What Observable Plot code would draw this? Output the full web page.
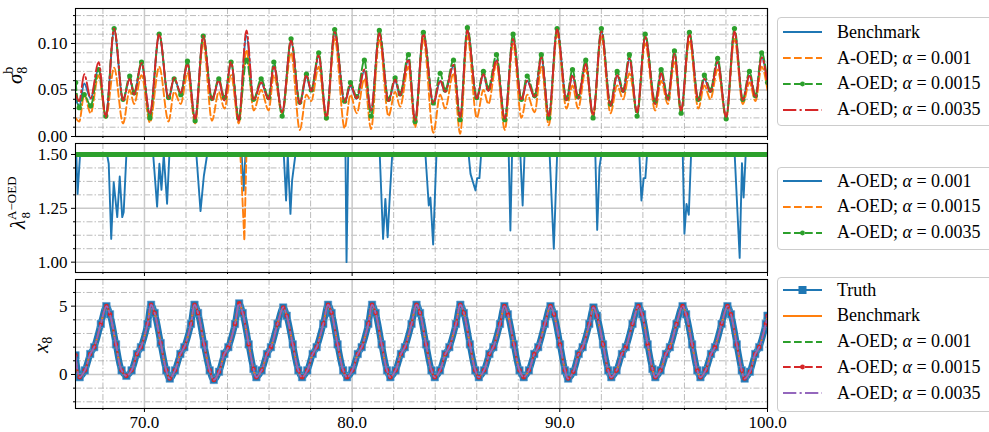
<!DOCTYPE html>
<html><head><meta charset="utf-8">
<script src="https://cdn.jsdelivr.net/npm/d3@7"></script>
<script src="https://cdn.jsdelivr.net/npm/@observablehq/plot@0.6"></script>
<style>
html,body{margin:0;padding:0;background:#fff;}
#root{position:relative;width:989px;height:432px;overflow:hidden;background:#fff;font-family:"Liberation Serif","Times New Roman",serif;}
#root svg.panel{position:absolute;left:0;}
.legend{position:absolute;left:777px;width:230px;border:1px solid #cccccc;border-radius:4px;background:#fff;box-sizing:border-box;}
.legend .row{position:absolute;left:5px;height:22px;display:flex;align-items:center;white-space:nowrap;font-size:18px;color:#000;}
.legend .row svg{width:40px;height:14px;margin-right:14px;flex:none;}
</style></head><body><div id="root"></div>
<script>
// ---------------- data ----------------
const xMajor = [70, 80, 90, 100];
const xMinor = [68, 72, 74, 76, 78, 82, 84, 86, 88, 92, 94, 96, 98];
const sigmaMajor = [0, 0.05, 0.10];
const sigmaMinor = [0.01, 0.02, 0.03, 0.04, 0.06, 0.07, 0.08, 0.09, 0.11, 0.12, 0.13];
const lambdaMajor = [1.0, 1.25, 1.5];
const lambdaMinor = [1.0625, 1.125, 1.1875, 1.3125, 1.375, 1.4375];
const x8Major = [0, 5];
const x8Minor = [-2, -1, 1, 2, 3, 4, 6];

// panel 1: sigma_8^b
const sigmaT = [66.69, 66.86, 67.10, 67.41, 67.79, 68.14, 68.54, 68.97, 69.29, 69.50, 69.86, 70.26, 70.71, 71.16, 71.43, 71.75, 72.07, 72.44, 72.83, 73.25, 73.58, 73.85, 74.17, 74.54, 74.91, 75.26, 75.62, 75.98, 76.23, 76.63, 77.06, 77.48, 77.80, 78.03, 78.39, 78.76, 79.16, 79.64, 79.92, 80.22, 80.59, 80.91, 81.31, 81.75, 82.07, 82.31, 82.71, 83.03, 83.43, 83.91, 84.24, 84.48, 84.88, 85.20, 85.55, 86.00, 86.32, 86.56, 86.95, 87.35, 87.75, 88.15, 88.43, 88.79, 89.11, 89.47, 89.87, 90.32, 90.61, 90.88, 91.25, 91.60, 92.00, 92.44, 92.76, 93.05, 93.35, 93.72, 94.11, 94.59, 94.88, 95.20, 95.52, 95.84, 96.24, 96.67, 96.96, 97.25, 97.60, 98.01, 98.41, 98.81, 99.13, 99.42, 99.72, 100.0];
const sigmaBenchmark = [0.040, 0.033, 0.057, 0.041, 0.073, 0.0215, 0.114, 0.039, 0.062, 0.046, 0.078, 0.024, 0.109, 0.040, 0.062, 0.047, 0.078, 0.019, 0.107, 0.039, 0.060, 0.039, 0.079, 0.018, 0.108, 0.039, 0.058, 0.040, 0.076, 0.026, 0.102, 0.035, 0.064, 0.049, 0.086, 0.021, 0.111, 0.037, 0.054, 0.0405, 0.071, 0.028, 0.111, 0.038, 0.060, 0.044, 0.0825, 0.017, 0.1097, 0.035, 0.060, 0.048, 0.076, 0.021, 0.114, 0.0405, 0.067, 0.049, 0.082, 0.019, 0.105, 0.039, 0.060, 0.042, 0.085, 0.0215, 0.1147, 0.039, 0.0656, 0.0405, 0.078, 0.0226, 0.113, 0.033, 0.0656, 0.0477, 0.0835, 0.026, 0.1068, 0.035, 0.0674, 0.0395, 0.089, 0.028, 0.1097, 0.0387, 0.062, 0.0477, 0.080, 0.021, 0.112, 0.0387, 0.0656, 0.042, 0.085, 0.0567];
const sigmaA001 = [0.020, 0.016, 0.045, 0.025, 0.066, 0.020, 0.074, 0.014, 0.050, 0.035, 0.066, 0.015, 0.075, 0.016, 0.048, 0.035, 0.068, 0.014, 0.101, 0.017, 0.048, 0.030, 0.066, 0.014, 0.093, 0.028, 0.050, 0.028, 0.066, 0.025, 0.090, 0.007, 0.045, 0.038, 0.075, 0.018, 0.105, 0.009, 0.045, 0.025, 0.062, 0.008, 0.105, 0.022, 0.048, 0.032, 0.075, 0.010, 0.105, 0.004, 0.045, 0.030, 0.068, 0.003, 0.108, 0.020, 0.050, 0.035, 0.078, 0.007, 0.100, 0.020, 0.045, 0.026, 0.075, 0.012, 0.110, 0.030, 0.055, 0.030, 0.072, 0.022, 0.108, 0.025, 0.055, 0.040, 0.068, 0.026, 0.100, 0.028, 0.060, 0.035, 0.080, 0.025, 0.103, 0.030, 0.055, 0.040, 0.072, 0.020, 0.105, 0.035, 0.058, 0.038, 0.075, 0.050];
const sigmaA0015 = [0.058, 0.031, 0.045, 0.033, 0.072, 0.022, 0.116, 0.040, 0.065, 0.047, 0.080, 0.020, 0.110, 0.042, 0.062, 0.045, 0.081, 0.017, 0.108, 0.041, 0.062, 0.042, 0.080, 0.020, 0.082, 0.040, 0.062, 0.042, 0.080, 0.022, 0.105, 0.037, 0.067, 0.050, 0.090, 0.020, 0.115, 0.038, 0.058, 0.043, 0.082, 0.022, 0.114, 0.040, 0.063, 0.046, 0.088, 0.016, 0.112, 0.036, 0.068, 0.050, 0.082, 0.018, 0.117, 0.042, 0.070, 0.052, 0.088, 0.018, 0.110, 0.040, 0.065, 0.044, 0.088, 0.020, 0.116, 0.041, 0.072, 0.043, 0.082, 0.020, 0.116, 0.035, 0.070, 0.050, 0.088, 0.022, 0.110, 0.038, 0.072, 0.042, 0.092, 0.025, 0.112, 0.040, 0.066, 0.050, 0.084, 0.019, 0.116, 0.040, 0.070, 0.044, 0.090, 0.058];
const sigmaA0035 = [0.045, 0.038, 0.067, 0.041, 0.080, 0.021, 0.116, 0.039, 0.062, 0.045, 0.079, 0.024, 0.110, 0.041, 0.063, 0.047, 0.078, 0.019, 0.108, 0.039, 0.060, 0.039, 0.080, 0.017, 0.114, 0.039, 0.058, 0.040, 0.076, 0.026, 0.103, 0.035, 0.066, 0.049, 0.087, 0.021, 0.112, 0.037, 0.055, 0.041, 0.072, 0.028, 0.111, 0.038, 0.061, 0.044, 0.083, 0.017, 0.110, 0.036, 0.060, 0.048, 0.077, 0.021, 0.114, 0.041, 0.067, 0.049, 0.082, 0.019, 0.105, 0.039, 0.060, 0.042, 0.085, 0.022, 0.115, 0.039, 0.066, 0.041, 0.078, 0.023, 0.113, 0.033, 0.066, 0.048, 0.084, 0.026, 0.107, 0.035, 0.068, 0.040, 0.089, 0.028, 0.110, 0.039, 0.062, 0.048, 0.080, 0.021, 0.113, 0.039, 0.066, 0.042, 0.085, 0.057];

// panel 2: lambda_8 (time, value)
const lambdaA001 = [[66.68,1.5],[66.72,1.5],[66.78,1.317],[66.90,1.5],
 [68.20,1.5],[68.28,1.457],[68.40,1.108],[68.52,1.371],[68.69,1.209],[68.81,1.398],[68.93,1.209],[69.00,1.232],[69.13,1.5],
 [70.42,1.5],[70.61,1.258],[70.72,1.457],[70.82,1.336],[70.93,1.5],[71.09,1.271],[71.20,1.5],
 [72.50,1.5],[72.70,1.237],[72.86,1.40],[73.02,1.5],
 [74.68,1.5],[74.78,1.333],[74.86,1.5],
 [76.71,1.5],[76.82,1.286],[76.90,1.5],[77.03,1.224],[77.11,1.38],[77.27,1.5],
 [79.68,1.5],[79.73,1.0],[79.81,1.5],
 [81.33,1.5],[81.49,1.108],[81.60,1.294],[81.71,1.116],[81.81,1.30],[81.93,1.5],
 [83.53,1.5],[83.69,1.263],[83.77,1.30],[83.90,1.082],[84.06,1.5],
 [85.61,1.5],[85.70,1.41],[85.94,1.333],[86.02,1.39],[86.13,1.39],[86.21,1.5],
 [87.54,1.5],[87.62,1.147],[87.70,1.5],[88.10,1.5],[88.21,1.263],[88.30,1.5],
 [89.51,1.5],[89.71,1.062],[89.87,1.5],
 [91.71,1.5],[91.80,1.15],[91.91,1.44],[92.00,1.5],
 [93.83,1.5],[93.93,1.286],[94.04,1.39],[94.12,1.39],[94.20,1.5],
 [95.92,1.5],[96.00,1.132],[96.10,1.27],[96.21,1.22],[96.32,1.5],
 [98.42,1.5],[98.66,1.02],[98.77,1.46],[98.85,1.30],[98.95,1.5],
 [100.0,1.5]];
const lambdaA0015 = [[66.68,1.5],[74.62,1.5],[74.81,1.10],[74.91,1.5],[100.0,1.5]];
const lambdaA0035 = [[66.68,1.5],[100.0,1.5]];

// panel 3: x_8 truth (time, value); the estimates coincide with it at this scale
const x8Truth = [[66.68,1.4],[66.88,-0.2],[67.13,0.3],[67.39,1.5],[67.58,2.0],[67.90,3.7],
 [68.17,5.0],[68.34,4.4],[68.63,2.2],[68.90,0.3],[69.13,-0.1],[69.38,0.3],[69.64,1.5],[69.83,2.0],[70.15,3.7],
 [70.32,5.1],[70.49,4.5],[70.78,2.3],[71.05,0.3],[71.22,-0.3],[71.47,0.3],[71.73,1.5],[71.92,2.0],[72.24,3.7],
 [72.41,5.1],[72.58,4.5],[72.87,2.2],[73.14,0.3],[73.34,-0.4],[73.59,0.2],[73.85,1.5],[74.04,2.0],[74.36,3.7],
 [74.56,5.2],[74.73,4.5],[75.02,2.2],[75.25,0.4],[75.39,-0.2],[75.64,0.3],[75.90,1.5],[76.09,2.0],[76.41,3.7],
 [76.68,4.9],[76.85,4.3],[77.14,2.2],[77.41,0.3],[77.59,-0.2],[77.84,0.3],[78.10,1.5],[78.29,2.0],[78.61,3.7],
 [78.84,5.1],[79.01,4.5],[79.30,2.2],[79.57,0.3],[79.76,-0.2],[80.01,0.3],[80.27,1.5],[80.46,2.0],[80.78,3.7],
 [80.96,5.1],[81.13,4.5],[81.42,2.2],[81.68,0.3],[81.84,-0.2],[82.09,0.3],[82.35,1.5],[82.54,2.0],[82.86,3.7],
 [83.10,5.1],[83.27,4.5],[83.56,2.2],[83.82,0.3],[83.98,-0.2],[84.23,0.3],[84.49,1.5],[84.68,2.0],[85.00,3.7],
 [85.21,5.1],[85.38,4.5],[85.67,2.2],[85.93,0.3],[86.10,-0.2],[86.35,0.3],[86.61,1.5],[86.80,2.0],[87.12,3.7],
 [87.33,5.0],[87.50,4.4],[87.79,2.2],[88.06,0.3],[88.26,-0.2],[88.51,0.3],[88.77,1.5],[88.96,2.0],[89.28,3.7],
 [89.55,5.0],[89.72,4.4],[90.01,2.2],[90.25,0.3],[90.40,-0.3],[90.65,0.2],[90.91,1.5],[91.10,2.0],[91.42,3.7],
 [91.62,4.9],[91.79,4.3],[92.08,2.2],[92.33,0.3],[92.48,-0.2],[92.73,0.3],[92.99,1.5],[93.18,2.0],[93.50,3.7],
 [93.79,5.0],[93.96,4.4],[94.23,2.2],[94.46,0.4],[94.60,-0.2],[94.85,0.3],[95.11,1.5],[95.30,2.0],[95.62,3.7],
 [95.91,5.0],[96.08,4.4],[96.37,2.2],[96.62,0.3],[96.77,-0.2],[97.02,0.3],[97.28,1.5],[97.47,2.0],[97.79,3.7],
 [98.07,5.0],[98.24,4.4],[98.52,2.2],[98.76,0.3],[98.90,-0.3],[99.15,0.2],[99.41,1.5],[99.60,2.0],[99.92,3.7],
 [100.0,4.3]];

// legends
const legend1 = [["Benchmark","solid","blue"],["A-OED; α = 0.001","dashed","orange"],["A-OED; α = 0.0015","dasheddot","green"],["A-OED; α = 0.0035","dashdot","red"]];
const legend2 = [["A-OED; α = 0.001","solid","blue"],["A-OED; α = 0.0015","dashed","orange"],["A-OED; α = 0.0035","dasheddot","green"]];
const legend3 = [["Truth","square","blue"],["Benchmark","solid","orange"],["A-OED; α = 0.001","dashed","green"],["A-OED; α = 0.0015","dasheddot","red"],["A-OED; α = 0.0035","dashdot","purple"]];

// ---------------- style ----------------
const C = {blue:"#1f77b4", orange:"#ff7f0e", green:"#2ca02c", red:"#d62728", purple:"#9467bd"};
const FONT = "Liberation Serif, Times New Roman, serif";
const DASH = "7.7,3.3", DASHDOT = "13.3,3.3,2.1,3.3";
const LW = 1.9;
const X_DOMAIN = [66.68, 100];

function gridAndAxes(yMajor, yMinor, yFmt, showX) {
  const minorStyle = {stroke:"#a9a9a9", strokeWidth:0.8, strokeDasharray:"6,2,1.5,2"};
  const majorStyle = {stroke:"#c9c9c9", strokeWidth:1.5};
  return {
    under: [
      Plot.ruleY(yMinor, minorStyle),
      Plot.ruleX(xMinor, minorStyle),
      Plot.ruleY(yMajor, majorStyle),
      Plot.ruleX(xMajor, majorStyle)
    ],
    over: [
      Plot.frame({stroke:"#000", strokeWidth:1.1}),
      Plot.axisY({ticks:yMajor, tickFormat:yFmt, tickSize:4, tickPadding:4, label:null}),
      Plot.axisY({ticks:yMinor, tickFormat:() => "", tickSize:2, label:null}),
      Plot.axisX({ticks:xMajor, tickFormat: showX ? (d => d.toFixed(1)) : (() => ""), tickSize:4, tickPadding:3, label:null}),
      Plot.axisX({ticks:xMinor, tickFormat:() => "", tickSize:2, label:null})
    ]
  };
}

function makePanel({top, height, mt, mb, yDomain, yMajor, yMinor, yFmt, showX, marks}) {
  const g = gridAndAxes(yMajor, yMinor, yFmt, showX);
  const svg = Plot.plot({
    width: 770, height, marginLeft: 75, marginRight: 3, marginTop: mt, marginBottom: mb,
    x: {domain: X_DOMAIN}, y: {domain: yDomain},
    style: {fontFamily: FONT, fontSize: "17px", color: "#000", background: "transparent", overflow: "visible"},
    marks: [...g.under, ...marks, ...g.over]
  });
  svg.classList.add("panel");
  svg.style.top = top + "px";
  svg.style.maxWidth = "none";
  document.getElementById("root").appendChild(svg);
  return svg;
}

// label position (x, y) is given in the panel svg's own coordinates
function yLabel(svg, x, y, parts) {
  const t = d3.select(svg).append("text")
    .attr("transform", `translate(${x},${y}) rotate(-90)`)
    .attr("text-anchor", "start").attr("fill", "#000")
    .attr("font-family", FONT);
  for (const p of parts) {
    const s = t.append("tspan").text(p.text).attr("font-size", p.size);
    if (p.italic) s.attr("font-style", "italic");
    if (p.dx) s.attr("dx", p.dx);
    if (p.dy) s.attr("dy", p.dy);
  }
}

// ---------------- panel 1 ----------------
const p1 = makePanel({
  top: 0, height: 142, mt: 8, mb: 6, yDomain: [0, 0.1376],
  yMajor: sigmaMajor, yMinor: sigmaMinor, yFmt: d3.format(".2f"), showX: false,
  marks: [
    Plot.line(sigmaT, {x: sigmaT, y: sigmaBenchmark, stroke: C.blue, strokeWidth: LW, curve: "monotone-x", clip: true}),
    Plot.line(sigmaT, {x: sigmaT, y: sigmaA001, stroke: C.orange, strokeWidth: LW, strokeDasharray: DASH, curve: "monotone-x", clip: true}),
    Plot.line(sigmaT, {x: sigmaT, y: sigmaA0015, stroke: C.green, strokeWidth: LW, strokeDasharray: DASH, curve: "monotone-x", clip: true}),
    Plot.dot(sigmaT, {x: sigmaT, y: sigmaA0015, fill: C.green, r: 2.6, clip: true}),
    Plot.line(sigmaT, {x: sigmaT, y: sigmaA0035, stroke: C.red, strokeWidth: LW, strokeDasharray: DASHDOT, curve: "monotone-x", clip: true})
  ]
});
yLabel(p1, 22, 84, [{text:"σ", italic:true, size:21}, {text:"b", size:14, dy:-9}, {text:"8", size:14, dx:-7, dy:14}]);

// ---------------- panel 2 ----------------
const p2 = makePanel({
  top: 137, height: 141, mt: 6, mb: 6, yDomain: [0.952, 1.551],
  yMajor: lambdaMajor, yMinor: lambdaMinor, yFmt: d3.format(".2f"), showX: false,
  marks: [
    Plot.line(lambdaA001, {stroke: C.blue, strokeWidth: LW, clip: true}),
    Plot.line(lambdaA0015, {stroke: C.orange, strokeWidth: LW, strokeDasharray: DASH, clip: true}),
    Plot.line(lambdaA0035, {stroke: C.green, strokeWidth: 5, clip: true})
  ]
});
yLabel(p2, 25, 92, [{text:"λ", italic:true, size:21}, {text:"A−OED", size:13, dy:-9}, {text:"8", size:13, dx:-42, dy:14}]);

// ---------------- panel 3 ----------------
const p3 = makePanel({
  top: 273, height: 159, mt: 6, mb: 24, yDomain: [-2.49, 6.95],
  yMajor: x8Major, yMinor: x8Minor, yFmt: d => String(d), showX: true,
  marks: [
    Plot.line(x8Truth, {stroke: C.blue, strokeWidth: 6.5, curve: "catmull-rom", clip: true}),
    Plot.dot(x8Truth, {symbol: "square", r: 4.2, fill: C.blue, stroke: "#5b9bd0", strokeWidth: 0.6, clip: true}),
    Plot.line(x8Truth, {stroke: C.orange, strokeWidth: LW, curve: "catmull-rom", clip: true}),
    Plot.line(x8Truth, {stroke: C.green, strokeWidth: LW, strokeDasharray: DASH, curve: "catmull-rom", clip: true}),
    Plot.line(x8Truth, {stroke: C.red, strokeWidth: LW, strokeDasharray: DASH, curve: "catmull-rom", clip: true}),
    Plot.dot(x8Truth, {fill: C.red, r: 2.3, clip: true}),
    Plot.line(x8Truth, {stroke: C.purple, strokeWidth: LW, strokeDasharray: DASHDOT, curve: "catmull-rom", clip: true})
  ]
});
yLabel(p3, 48, 80, [{text:"x", italic:true, size:21}, {text:"8", size:14, dy:4}]);

// ---------------- legends ----------------
function swatch(kind, color) {
  const ns = "http://www.w3.org/2000/svg";
  const s = document.createElementNS(ns, "svg");
  s.setAttribute("viewBox", "0 0 40 14");
  const line = document.createElementNS(ns, "line");
  line.setAttribute("x1", 0); line.setAttribute("x2", 39);
  line.setAttribute("y1", 7); line.setAttribute("y2", 7);
  line.setAttribute("stroke", C[color]); line.setAttribute("stroke-width", LW);
  if (kind === "dashed" || kind === "dasheddot") line.setAttribute("stroke-dasharray", DASH);
  if (kind === "dashdot") line.setAttribute("stroke-dasharray", DASHDOT);
  s.appendChild(line);
  if (kind === "dasheddot") {
    const c = document.createElementNS(ns, "circle");
    c.setAttribute("cx", 19.5); c.setAttribute("cy", 7); c.setAttribute("r", 2.4); c.setAttribute("fill", C[color]);
    s.appendChild(c);
  }
  if (kind === "square") {
    const r = document.createElementNS(ns, "rect");
    r.setAttribute("x", 15.5); r.setAttribute("y", 3); r.setAttribute("width", 8); r.setAttribute("height", 8); r.setAttribute("fill", C[color]);
    s.appendChild(r);
  }
  return s;
}
function makeLegend(items, top, height, firstRow) {
  const box = document.createElement("div");
  box.className = "legend";
  box.style.top = top + "px"; box.style.height = height + "px";
  items.forEach(([label, kind, color], i) => {
    const row = document.createElement("div");
    row.className = "row";
    row.style.top = (firstRow + i * 25.8) + "px";
    row.appendChild(swatch(kind, color));
    const span = document.createElement("span");
    const m = label.match(/^(.*)α(.*)$/);
    if (m) {
      span.append(m[1]);
      const it = document.createElement("i"); it.textContent = "α"; span.appendChild(it);
      span.append(m[2]);
    } else span.textContent = label;
    row.appendChild(span);
    box.appendChild(row);
  });
  document.getElementById("root").appendChild(box);
}
makeLegend(legend1, 17, 109, 3.3);
makeLegend(legend2, 167, 83, 2);
makeLegend(legend3, 277, 135, 1);
</script></body></html>
